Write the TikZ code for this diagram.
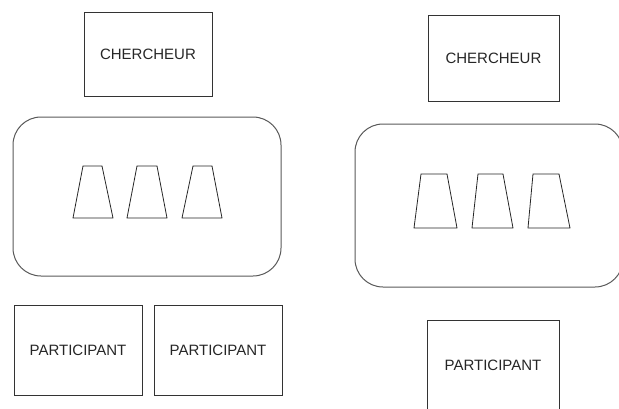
\documentclass[tikz,border=0pt]{standalone}
\usepackage{fontspec}
\setmainfont{Liberation Sans}
\begin{document}
\begin{tikzpicture}[x=1pt,y=-1pt,
  box/.style={draw=black!80, line width=0.8pt, inner sep=0pt, outer sep=0pt,
    font=\fontsize{15}{18}\selectfont, text=black!85},
  room/.style={draw=black!65, line width=1pt, rounded corners=28pt, inner sep=0pt, outer sep=0pt},
  seat/.style={draw=black!85, line width=0.8pt, line join=miter}]
\useasboundingbox (0,0) rectangle (619,408);
\clip (0,0) rectangle (619,408);
% left panel
\node[box, minimum width=128pt, minimum height=84pt] (chL) at (148,54) {CHERCHEUR};
\node[room, minimum width=268pt, minimum height=159pt] (roomL) at (147,196.5) {};
\node[box, minimum width=128pt, minimum height=90pt] (pL1) at (78,350) {PARTICIPANT};
\node[box, minimum width=128pt, minimum height=90pt] (pL2) at (218,350) {PARTICIPANT};
\draw[seat] (73,218) -- (83,166) -- (102,166) -- (113,218) -- cycle;
\draw[seat] (127,218) -- (137,166) -- (157,166) -- (167,218) -- cycle;
\draw[seat] (182,218) -- (193,166) -- (212,166) -- (222,218) -- cycle;
% right panel
\node[box, minimum width=131pt, minimum height=86pt] (chR) at (493.5,58) {CHERCHEUR};
\node[room, minimum width=268pt, minimum height=163pt] (roomR) at (489,205.5) {};
\node[box, minimum width=132pt, minimum height=90pt] (pR) at (493,365) {PARTICIPANT};
\draw[seat] (414,228) -- (421,174) -- (447,174) -- (457,228) -- cycle;
\draw[seat] (472,228) -- (478,174) -- (503,174) -- (513,228) -- cycle;
\draw[seat] (528,228) -- (533,174) -- (559,174) -- (570,228) -- cycle;
\end{tikzpicture}
\end{document}
